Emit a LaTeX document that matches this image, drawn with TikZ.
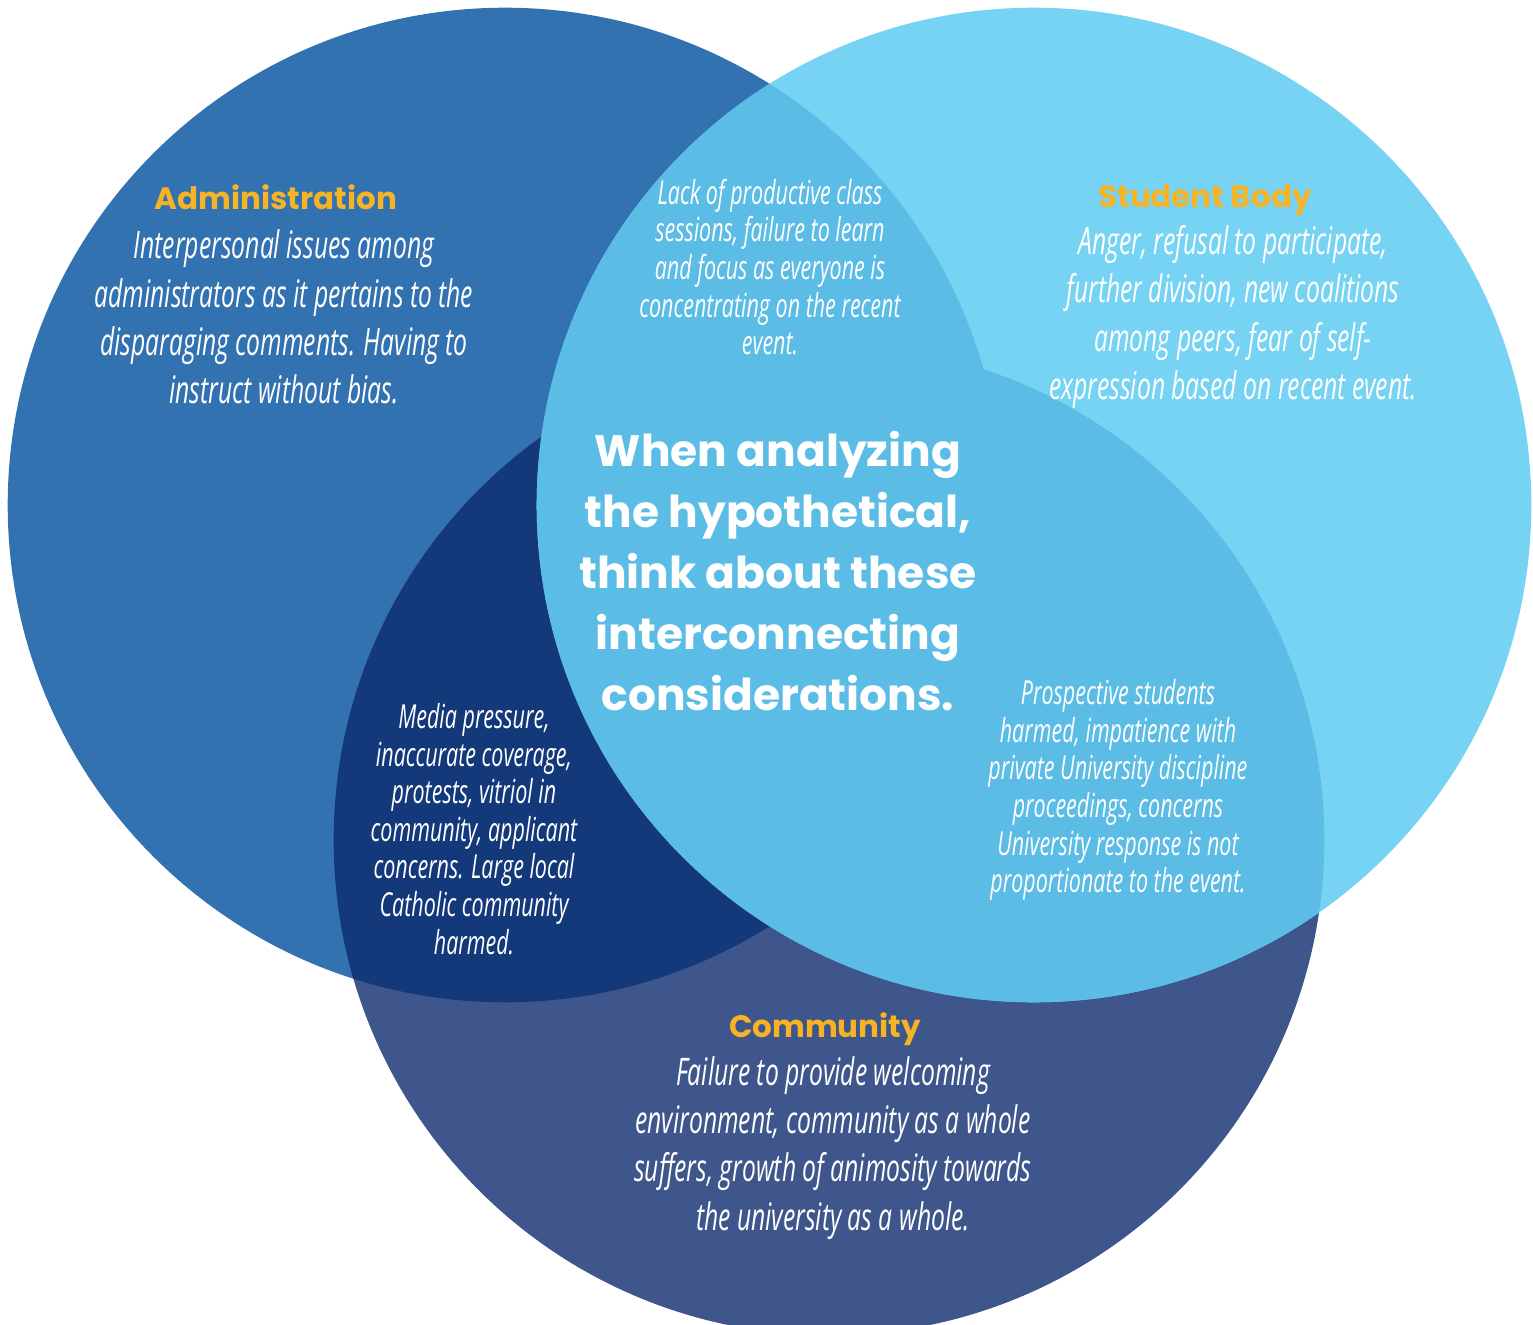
\documentclass[tikz,border=0pt]{standalone}
\usepackage{fontspec}
\usepackage{xcolor}
\setmainfont{Open Sans}
\newfontfamily\bodyfont[FakeStretch=0.65]{Open Sans}
\newfontfamily\headfont{Poppins}
\definecolor{adminblue}{HTML}{3372B0}
\definecolor{studentblue}{HTML}{76D3F3}
\definecolor{communityblue}{HTML}{3E568B}
\definecolor{navyblue}{HTML}{14397A}
\definecolor{overlapblue}{HTML}{5BBCE6}
\definecolor{titleorange}{HTML}{F6B325}

\begin{document}
\begin{tikzpicture}[x=0.01cm, y=-0.01cm,
  title/.style={font=\headfont\bfseries\fontsize{8.8}{10}\selectfont, text=titleorange},
  bigtext/.style={font=\bodyfont\itshape\fontsize{10.8}{13.7}\selectfont, text=white, align=center},
  smalltext/.style={font=\bodyfont\itshape\fontsize{9.4}{10.7}\selectfont, text=white, align=center},
  centertext/.style={font=\headfont\bfseries\fontsize{12.5}{17.3}\selectfont, text=white, align=center}]
\useasboundingbox[fill=white] (0,0) rectangle (1533,1325);
\coordinate (adm) at (505,505);
\coordinate (stu) at (1034,505);
\coordinate (com) at (829,840);

% circles and overlaps
\fill[adminblue] (adm) circle[radius=4.97cm];
\fill[communityblue] (com) circle[radius=4.95cm];
\begin{scope}
\clip (adm) circle[radius=4.97cm];
\fill[navyblue] (com) circle[radius=4.95cm];
\end{scope}
\fill[studentblue] (stu) circle[radius=4.97cm];
\begin{scope}
\clip (stu) circle[radius=4.97cm];
\fill[overlapblue] (adm) circle[radius=4.97cm] (com) circle[radius=4.95cm];
\end{scope}

% labels
\node[title] (admtitle) at (276,197) {Administration};
\node[bigtext] (admtext) at (284,317) {Interpersonal issues among\\administrators as it pertains to the\\disparaging comments. Having to\\instruct without bias.};
\node[title] (stutitle) at (1205,200) {Student Body};
\node[bigtext] (stutext) at (1233,317) {Anger, refusal to participate,\\further division, new coalitions\\among peers, fear of self-\\expression based on recent event.};
\node[title] (comtitle) at (825,1029) {Community};
\node[bigtext] (comtext) at (833,1148) {Failure to provide welcoming\\environment, community as a whole\\suffers, growth of animosity towards\\the university as a whole.};
\node[smalltext] (admstu) at (770,267) {Lack of productive class\\sessions, failure to learn\\and focus as everyone is\\concentrating on the recent\\event.};
\node[smalltext] (admcom) at (474,829) {Media pressure,\\inaccurate coverage,\\protests, vitriol in\\community, applicant\\concerns. Large local\\Catholic community\\harmed.};
\node[smalltext] (stucom) at (1118,790) {Prospective students\\harmed, impatience with\\private University discipline\\proceedings, concerns\\University response is not\\proportionate to the event.};
\node[centertext] (core) at (778,571) {When analyzing\\the hypothetical,\\think about these\\interconnecting\\considerations.};
\end{tikzpicture}
\end{document}
